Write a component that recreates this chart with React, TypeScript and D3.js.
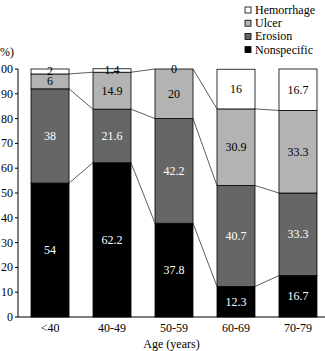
import * as d3 from 'd3'

const AGES = ['<40', '40-49', '50-59', '60-69', '70-79']
const NONSPECIFIC = [54, 62.2, 37.8, 12.3, 16.7]
const EROSION = [38, 21.6, 42.2, 40.7, 33.3]
const ULCER = [6, 14.9, 20, 30.9, 33.3]
const HEMORRHAGE = [2, 1.4, 0, 16, 16.7]
const Y_TICKS = [0, 10, 20, 30, 40, 50, 60, 70, 80, 90, 100]

const KEYS = ['Nonspecific', 'Erosion', 'Ulcer', 'Hemorrhage']
const FILLS: Record<string, string> = {
  Nonspecific: '#000000',
  Erosion: '#666666',
  Ulcer: '#b3b3b3',
  Hemorrhage: '#ffffff',
}
const TEXT_FILLS: Record<string, string> = {
  Nonspecific: '#ffffff',
  Erosion: '#ffffff',
  Ulcer: '#000000',
  Hemorrhage: '#000000',
}

const W = 325
const H = 351
const FONT = "'Liberation Serif', 'DejaVu Serif', serif"

export default function App() {
  const rows = AGES.map((age, i) => ({
    age,
    Nonspecific: NONSPECIFIC[i],
    Erosion: EROSION[i],
    Ulcer: ULCER[i],
    Hemorrhage: HEMORRHAGE[i],
  }))

  const x = d3
    .scaleBand()
    .domain(AGES)
    .range([18, 330])
    .paddingInner(0.387)
    .paddingOuter(0.21)

  const y = d3.scaleLinear().domain([0, 100]).range([317, 69])

  const series = d3.stack<any>().keys(KEYS)(rows)
  const bw = x.bandwidth()

  // thin lines joining each layer boundary between neighbouring bars
  const links: Array<{ x1: number; y1: number; x2: number; y2: number; k: string }> = []
  series.slice(0, 3).forEach((s) => {
    for (let i = 0; i < s.length - 1; i++) {
      links.push({
        k: `${s.key}-${i}`,
        x1: (x(AGES[i]) ?? 0) + bw,
        y1: y(s[i][1]),
        x2: x(AGES[i + 1]) ?? 0,
        y2: y(s[i + 1][1]),
      })
    }
  })

  const legendKeys = [...KEYS].reverse()
  const txt = { fontFamily: FONT, fontSize: 12 }

  return (
    <div style={{ position: 'absolute', left: 0, top: 0 }}>
      <svg width={W} height={H} style={{ display: 'block', fontFamily: FONT }}>
        <rect width={W} height={H} fill="#fff" />

        {/* bars */}
        {series.map((s) => (
          <g key={s.key}>
            {s.map((d, i) => (
              <rect
                key={i}
                x={x(AGES[i])}
                y={y(d[1])}
                width={bw}
                height={Math.max(0, y(d[0]) - y(d[1]))}
                fill={FILLS[s.key]}
                stroke="#000"
                strokeWidth={0.8}
              />
            ))}
          </g>
        ))}

        {links.map((l) => (
          <line key={l.k} x1={l.x1} y1={l.y1} x2={l.x2} y2={l.y2} stroke="#333" strokeWidth={0.8} />
        ))}

        {/* value labels */}
        {series.map((s) =>
          s.map((d, i) => (
            <text
              key={`${s.key}-t-${i}`}
              x={(x(AGES[i]) ?? 0) + bw / 2}
              y={y((d[0] + d[1]) / 2)}
              textAnchor="middle"
              dominantBaseline="central"
              style={txt}
              fill={TEXT_FILLS[s.key]}
            >
              {String((rows[i] as any)[s.key])}
            </text>
          )),
        )}

        {/* y axis */}
        <line x1={18} y1={y(0)} x2={18} y2={y(100)} stroke="#000" strokeWidth={1} />
        {Y_TICKS.map((t) => (
          <g key={t}>
            <line x1={15} x2={18} y1={y(t)} y2={y(t)} stroke="#000" strokeWidth={1} />
            <text x={13} y={y(t)} textAnchor="end" dominantBaseline="central" style={txt}>
              {t}
            </text>
          </g>
        ))}
        <text x={-4} y={52} style={txt} dominantBaseline="central">
          (%)
        </text>

        {/* x axis */}
        <line x1={18} y1={y(0)} x2={W} y2={y(0)} stroke="#000" strokeWidth={1} />
        {AGES.map((a) => (
          <text
            key={a}
            x={(x(a) ?? 0) + bw / 2}
            y={328}
            textAnchor="middle"
            dominantBaseline="central"
            style={txt}
          >
            {a}
          </text>
        ))}
        <text x={(18 + W) / 2} y={344} textAnchor="middle" dominantBaseline="central" style={txt}>
          Age (years)
        </text>

        {/* legend */}
        {legendKeys.map((k, i) => (
          <g key={k} transform={`translate(245,${10 + i * 13.2})`}>
            <rect x={0} y={-3} width={6} height={6} fill={FILLS[k]} stroke="#000" strokeWidth={0.8} />
            <text x={10} y={0} dominantBaseline="central" style={txt}>
              {k}
            </text>
          </g>
        ))}
      </svg>
    </div>
  )
}
